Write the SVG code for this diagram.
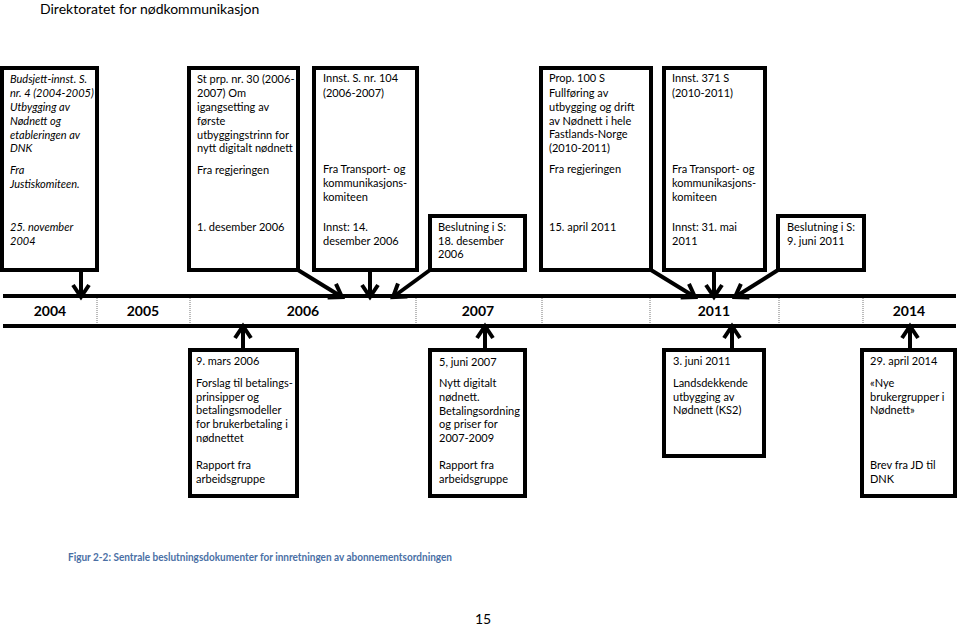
<svg xmlns="http://www.w3.org/2000/svg" width="960" height="626" viewBox="0 0 960 626">
<style>
.t{font-family:Lato,"Liberation Sans",sans-serif;font-size:11px;fill:#000}
.i{font-style:italic}
.y{font-family:Lato,"Liberation Sans",sans-serif;font-size:14px;font-weight:bold;text-anchor:middle;fill:#000}
.box{fill:#fff;stroke:#000;stroke-width:4}
.tl{stroke:#000;stroke-width:4}
.dv{stroke:#777;stroke-width:1;stroke-dasharray:1,1}
.con{stroke:#000;stroke-width:4;fill:none;marker-end:url(#ah)}
</style>
<defs>
<marker id="ah" markerUnits="userSpaceOnUse" viewBox="-16 -12 20 24" refX="0" refY="0" markerWidth="20" markerHeight="24" orient="auto">
<path d="M-12,-8 L0,0 L-12,8" fill="none" stroke="#000" stroke-width="4"/>
</marker>
</defs>
<rect width="960" height="626" fill="#fff"/>
<text x="40" y="14" style="font-family:Lato,'Liberation Sans',sans-serif;font-size:14px;fill:#000">Direktoratet for nødkommunikasjon</text>

<g id="timeline">
<line class="tl" x1="3" y1="296" x2="956" y2="296"/>
<line class="tl" x1="3" y1="326" x2="956" y2="326"/>
<line class="dv" x1="97" y1="298" x2="97" y2="324"/>
<line class="dv" x1="190" y1="298" x2="190" y2="324"/>
<line class="dv" x1="416" y1="298" x2="416" y2="324"/>
<line class="dv" x1="542" y1="298" x2="542" y2="324"/>
<line class="dv" x1="650" y1="298" x2="650" y2="324"/>
<line class="dv" x1="779" y1="298" x2="779" y2="324"/>
<line class="dv" x1="863" y1="298" x2="863" y2="324"/>
<text class="y" x="50" y="316">2004</text>
<text class="y" x="143" y="316">2005</text>
<text class="y" x="303" y="316">2006</text>
<text class="y" x="478" y="316">2007</text>
<text class="y" x="714" y="316">2011</text>
<text class="y" x="909" y="316">2014</text>
</g>

<g id="connectors">
<line class="con" x1="81" y1="270" x2="81" y2="297"/>
<line class="con" x1="298" y1="270" x2="342" y2="297"/>
<line class="con" x1="370" y1="270" x2="370" y2="297"/>
<line class="con" x1="430" y1="270" x2="393" y2="297"/>
<line class="con" x1="651" y1="270" x2="695" y2="297"/>
<line class="con" x1="714" y1="270" x2="714" y2="297"/>
<line class="con" x1="778" y1="270" x2="735" y2="297"/>
<line class="con" x1="243" y1="350" x2="243" y2="326"/>
<line class="con" x1="485" y1="350" x2="485" y2="326"/>
<line class="con" x1="732" y1="350" x2="732" y2="326"/>
<line class="con" x1="910" y1="350" x2="910" y2="326"/>
</g>

<g id="n1">
<rect class="box" x="2" y="68" width="95" height="202"/>
<text class="t i" x="10"><tspan x="10" y="83">Budsjett-innst. S.</tspan><tspan x="10" y="97">nr. 4 (2004-2005)</tspan><tspan x="10" y="111">Utbygging av</tspan><tspan x="10" y="125">Nødnett og</tspan><tspan x="10" y="139">etableringen av</tspan><tspan x="10" y="152">DNK</tspan><tspan x="10" y="174">Fra</tspan><tspan x="10" y="188">Justiskomiteen.</tspan><tspan x="10" y="231">25. november</tspan><tspan x="10" y="245">2004</tspan></text>
</g>
<g id="n2">
<rect class="box" x="189" y="68" width="109" height="202"/>
<text class="t"><tspan x="197" y="83">St prp. nr. 30 (2006-</tspan><tspan x="197" y="97">2007) Om</tspan><tspan x="197" y="111">igangsetting av</tspan><tspan x="197" y="125">første</tspan><tspan x="197" y="139">utbyggingstrinn for</tspan><tspan x="197" y="152">nytt digitalt nødnett</tspan><tspan x="197" y="174">Fra regjeringen</tspan><tspan x="197" y="231">1. desember 2006</tspan></text>
</g>
<g id="n3">
<rect class="box" x="314" y="68" width="103" height="202"/>
<text class="t"><tspan x="323" y="82">Innst. S. nr. 104</tspan><tspan x="323" y="97">(2006-2007)</tspan><tspan x="323" y="173">Fra Transport- og</tspan><tspan x="323" y="187">kommunikasjons-</tspan><tspan x="323" y="201">komiteen</tspan><tspan x="323" y="231">Innst: 14.</tspan><tspan x="323" y="245">desember 2006</tspan></text>
</g>
<g id="n4">
<rect class="box" x="430" y="216" width="95" height="54"/>
<text class="t"><tspan x="438" y="231">Beslutning i S:</tspan><tspan x="438" y="245">18. desember</tspan><tspan x="438" y="258">2006</tspan></text>
</g>
<g id="n5">
<rect class="box" x="541" y="68" width="110" height="202"/>
<text class="t"><tspan x="549" y="82">Prop. 100 S</tspan><tspan x="549" y="97">Fullføring av</tspan><tspan x="549" y="111">utbygging og drift</tspan><tspan x="549" y="125">av Nødnett i hele</tspan><tspan x="549" y="138">Fastlands-Norge</tspan><tspan x="549" y="152">(2010-2011)</tspan><tspan x="549" y="173">Fra regjeringen</tspan><tspan x="549" y="231">15. april 2011</tspan></text>
</g>
<g id="n6">
<rect class="box" x="664" y="68" width="101" height="202"/>
<text class="t"><tspan x="672" y="82">Innst. 371 S</tspan><tspan x="672" y="97">(2010-2011)</tspan><tspan x="672" y="173">Fra Transport- og</tspan><tspan x="672" y="187">kommunikasjons-</tspan><tspan x="672" y="201">komiteen</tspan><tspan x="672" y="231">Innst: 31. mai</tspan><tspan x="672" y="245">2011</tspan></text>
</g>
<g id="n7">
<rect class="box" x="778" y="216" width="86" height="54"/>
<text class="t"><tspan x="787" y="231">Beslutning i S:</tspan><tspan x="787" y="245">9. juni 2011</tspan></text>
</g>

<g id="n8">
<rect class="box" x="190" y="350" width="107" height="146"/>
<text class="t"><tspan x="196" y="365">9. mars 2006</tspan><tspan x="196" y="387">Forslag til betalings-</tspan><tspan x="196" y="401">prinsipper og</tspan><tspan x="196" y="414">betalingsmodeller</tspan><tspan x="196" y="428">for brukerbetaling i</tspan><tspan x="196" y="442">nødnettet</tspan><tspan x="196" y="469">Rapport fra</tspan><tspan x="196" y="483">arbeidsgruppe</tspan></text>
</g>
<g id="n9">
<rect class="box" x="430" y="350" width="95" height="146"/>
<text class="t"><tspan x="439" y="366">5, juni 2007</tspan><tspan x="439" y="387">Nytt digitalt</tspan><tspan x="439" y="401">nødnett.</tspan><tspan x="439" y="415">Betalingsordning</tspan><tspan x="439" y="428">og priser for</tspan><tspan x="439" y="442">2007-2009</tspan><tspan x="439" y="469">Rapport fra</tspan><tspan x="439" y="483">arbeidsgruppe</tspan></text>
</g>
<g id="n10">
<rect class="box" x="664" y="350" width="100" height="106"/>
<text class="t"><tspan x="673" y="365">3. juni 2011</tspan><tspan x="673" y="387">Landsdekkende</tspan><tspan x="673" y="401">utbygging av</tspan><tspan x="673" y="414">Nødnett (KS2)</tspan></text>
</g>
<g id="n11">
<rect class="box" x="862" y="350" width="93" height="146"/>
<text class="t"><tspan x="870" y="365">29. april 2014</tspan><tspan x="870" y="387">«Nye</tspan><tspan x="870" y="401">brukergrupper i</tspan><tspan x="870" y="414">Nødnett»</tspan><tspan x="870" y="469">Brev fra JD til</tspan><tspan x="870" y="483">DNK</tspan></text>
</g>

<text x="68" y="561" textLength="384" lengthAdjust="spacingAndGlyphs" style="font-family:Lato,'Liberation Sans',sans-serif;font-size:11px;font-weight:bold;fill:#4a6fa5">Figur 2-2: Sentrale beslutningsdokumenter for innretningen av abonnementsordningen</text>
<text x="483" y="624" text-anchor="middle" style="font-family:Lato,'Liberation Sans',sans-serif;font-size:14px;fill:#000">15</text>
</svg>
